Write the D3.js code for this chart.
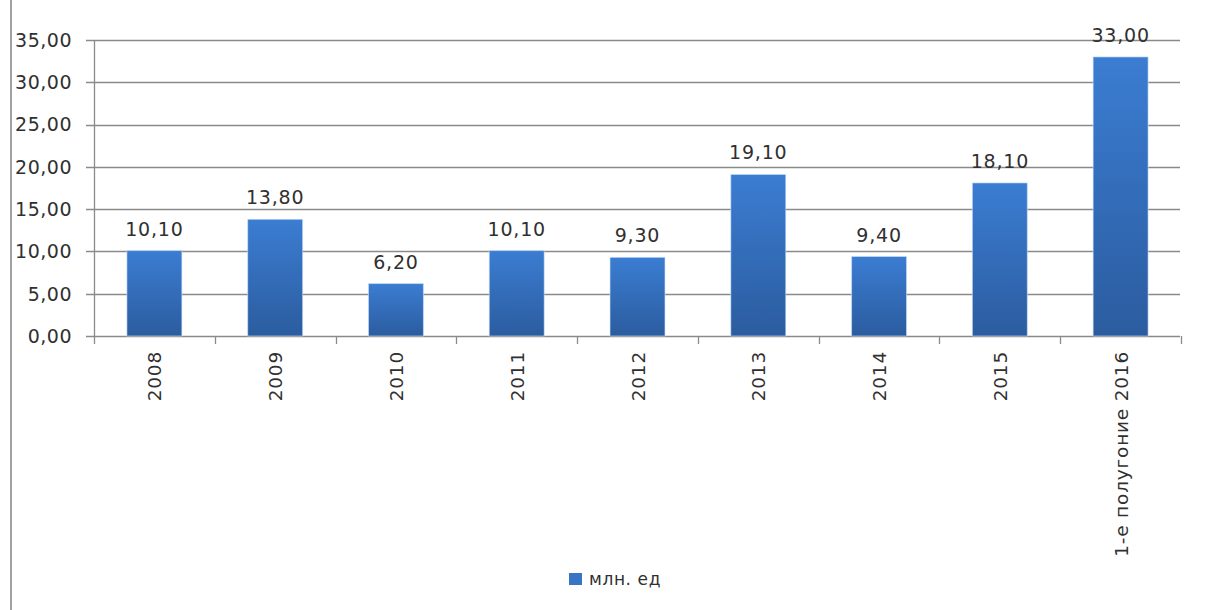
<!DOCTYPE html>
<html><head><meta charset="utf-8">
<script src="https://cdn.jsdelivr.net/npm/d3@7"></script>
<style>
html,body{margin:0;padding:0;background:#fff;}
svg{display:block;}
text{font-family:"DejaVu Sans",Verdana,sans-serif;fill:#303030;}
</style></head>
<body>
<svg id="c" width="1207" height="610"></svg>
<script>
const categories = ["2008","2009","2010","2011","2012","2013","2014","2015","1-е полугоние 2016"];
const values = [10.10, 13.80, 6.20, 10.10, 9.30, 19.10, 9.40, 18.10, 33.00];
const yTicks = [0,5,10,15,20,25,30,35];
const seriesName = "млн. ед";

const svg = d3.select("#c");
const fmt = v => v.toFixed(2).replace(".", ",");

const x = d3.scaleBand().domain(categories).range([94, 1181]).paddingInner(0.545).paddingOuter(0.2725);
const y = d3.scaleLinear().domain([0,35]).range([336, 40]);

const defs = svg.append("defs");
const g = defs.append("linearGradient").attr("id","bg").attr("x1",0).attr("y1",0).attr("x2",0).attr("y2",1);
g.append("stop").attr("offset","0%").attr("stop-color","#3b7dd2");
g.append("stop").attr("offset","100%").attr("stop-color","#2b5c9f");

// outer left border line
svg.append("line").attr("x1",11).attr("x2",11).attr("y1",0).attr("y2",610)
  .attr("stroke","#a0a0a0").attr("stroke-width",2);

// gridlines + y tick marks
svg.append("g").selectAll("line").data(yTicks).join("line")
  .attr("x1",86).attr("x2",1180)
  .attr("y1",d=>Math.round(y(d))+0.5).attr("y2",d=>Math.round(y(d))+0.5)
  .attr("stroke","#8a8a8a").attr("stroke-width",1.3);

// y axis line
svg.append("line").attr("x1",94.5).attr("x2",94.5).attr("y1",y(35)).attr("y2",y(0))
  .attr("stroke","#8a8a8a").attr("stroke-width",1.3);

// y tick labels
svg.append("g").selectAll("text").data(yTicks).join("text")
  .attr("x",72).attr("y",d=>y(d)).attr("dy","0.36em")
  .attr("text-anchor","end").attr("font-size",19).attr("letter-spacing",0.5).text(fmt);

// x category boundary ticks
const step = x.step();
const bounds = d3.range(categories.length+1).map(i => x.range()[0] + i*step);
svg.append("g").selectAll("line").data(bounds).join("line")
  .attr("x1",d=>Math.round(d)+0.5).attr("x2",d=>Math.round(d)+0.5)
  .attr("y1",y(0)).attr("y2",y(0)+8)
  .attr("stroke","#8a8a8a").attr("stroke-width",1.3);

// bars
svg.append("g").selectAll("rect").data(values).join("rect")
  .attr("x",(d,i)=>x(categories[i])).attr("width",x.bandwidth())
  .attr("y",d=>y(d)).attr("height",d=>y(0)-y(d))
  .attr("fill","url(#bg)").attr("stroke","#cfe3fb").attr("stroke-width",1).attr("stroke-opacity",0.6);

// data labels
svg.append("g").selectAll("text").data(values).join("text")
  .attr("x",(d,i)=>x(categories[i])+x.bandwidth()/2).attr("y",d=>y(d)-15)
  .attr("text-anchor","middle").attr("font-size",19).attr("letter-spacing",0.8).text(fmt);

// category labels (rotated)
svg.append("g").selectAll("text").data(categories).join("text")
  .attr("transform",d=>`translate(${x(d)+x.bandwidth()/2+7},351) rotate(-90)`)
  .attr("text-anchor","end").attr("font-size",18.5).attr("letter-spacing",0.8).text(d=>d);

// legend
const lg = svg.append("g").attr("transform","translate(569,573)");
lg.append("rect").attr("x",0).attr("y",0).attr("width",13).attr("height",12).attr("fill","#3a74c4");
lg.append("text").attr("x",20).attr("y",6).attr("dy","0.36em").attr("font-size",17).attr("letter-spacing",0.6).text(seriesName);
</script>
</body></html>
